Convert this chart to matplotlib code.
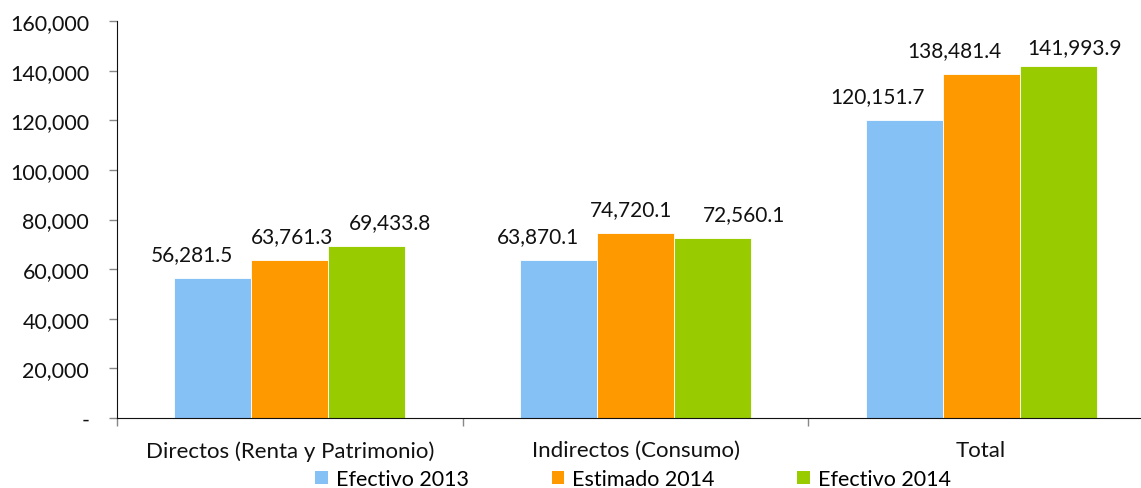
import matplotlib

matplotlib.use("Agg")
import matplotlib.pyplot as plt
import numpy as np
from matplotlib.patches import Patch
from matplotlib.ticker import FuncFormatter, FixedLocator

plt.rcParams["font.family"] = ["Lato", "DejaVu Sans"]

categories = ["Directos (Renta y Patrimonio)", "Indirectos (Consumo)", "Total"]
series_names = ["Efectivo 2013", "Estimado 2014", "Efectivo 2014"]
efectivo_2013 = [56281.5, 63870.1, 120151.7]
estimado_2014 = [63761.3, 74720.1, 138481.4]
efectivo_2014 = [69433.8, 72560.1, 141993.9]
colors = ["#85C1F5", "#FF9900", "#99CC00"]

# label nudges (points) per category, per series -- Excel spread them out
label_dx = [
    [-15, 1.5, 16.5],
    [-15, -3.5, 23],
    [-19, -19, 11.5],
]
label_dy = [
    [10, 10, 10],
    [10, 10, 10],
    [10, 10, 6],
]

fig = plt.figure(figsize=(11.41, 4.89), dpi=100)
ax = fig.add_axes([117 / 1141, 70 / 489, 1037 / 1141, 397 / 489])

x = np.arange(len(categories))
width = 0.2225
series = [efectivo_2013, estimado_2014, efectivo_2014]
for i, (vals, col) in enumerate(zip(series, colors)):
    pos = x + (i - 1) * width
    ax.bar(pos, vals, width=width, color=col, edgecolor="white", linewidth=0.6)
    for j, (p, v) in enumerate(zip(pos, vals)):
        ax.annotate(f"{v:,.1f}", (p, v), xytext=(label_dx[j][i], label_dy[j][i]),
                    textcoords="offset points", ha="center", va="bottom",
                    fontsize=15, color="#111111")

ax.set_xlim(-0.5, 2.5)
ax.set_ylim(0, 160000)
ax.set_yticks(np.arange(0, 160001, 20000))
ax.yaxis.set_major_formatter(FuncFormatter(lambda v, _: "-" if v == 0 else f"{v:,.0f}"))
ax.set_xticks(x)
ax.set_xticklabels(categories)
ax.xaxis.set_minor_locator(FixedLocator([-0.5, 0.5, 1.5, 2.5]))
ax.tick_params(axis="x", which="major", length=0, pad=16, labelsize=16, labelcolor="#111111")
ax.tick_params(axis="x", which="minor", length=6, color="#888888", width=1)
ax.tick_params(axis="y", length=6, color="#888888", width=1, pad=14, labelsize=15.5,
               labelcolor="#111111")

for side in ("top", "right"):
    ax.spines[side].set_visible(False)
ax.spines["left"].set_color("#111111")
ax.spines["bottom"].set_color("#111111")

handles = [Patch(facecolor=c, edgecolor="none") for c in colors]
fig.legend(handles, series_names, loc="center", bbox_to_anchor=(633 / 1141, 9 / 489),
           ncol=3, frameon=False, fontsize=15.5, handlelength=0.6, handleheight=0.6,
           handletextpad=0.35, columnspacing=3.85, borderpad=0)

fig.savefig("out.png", dpi=100)
plt.close(fig)
